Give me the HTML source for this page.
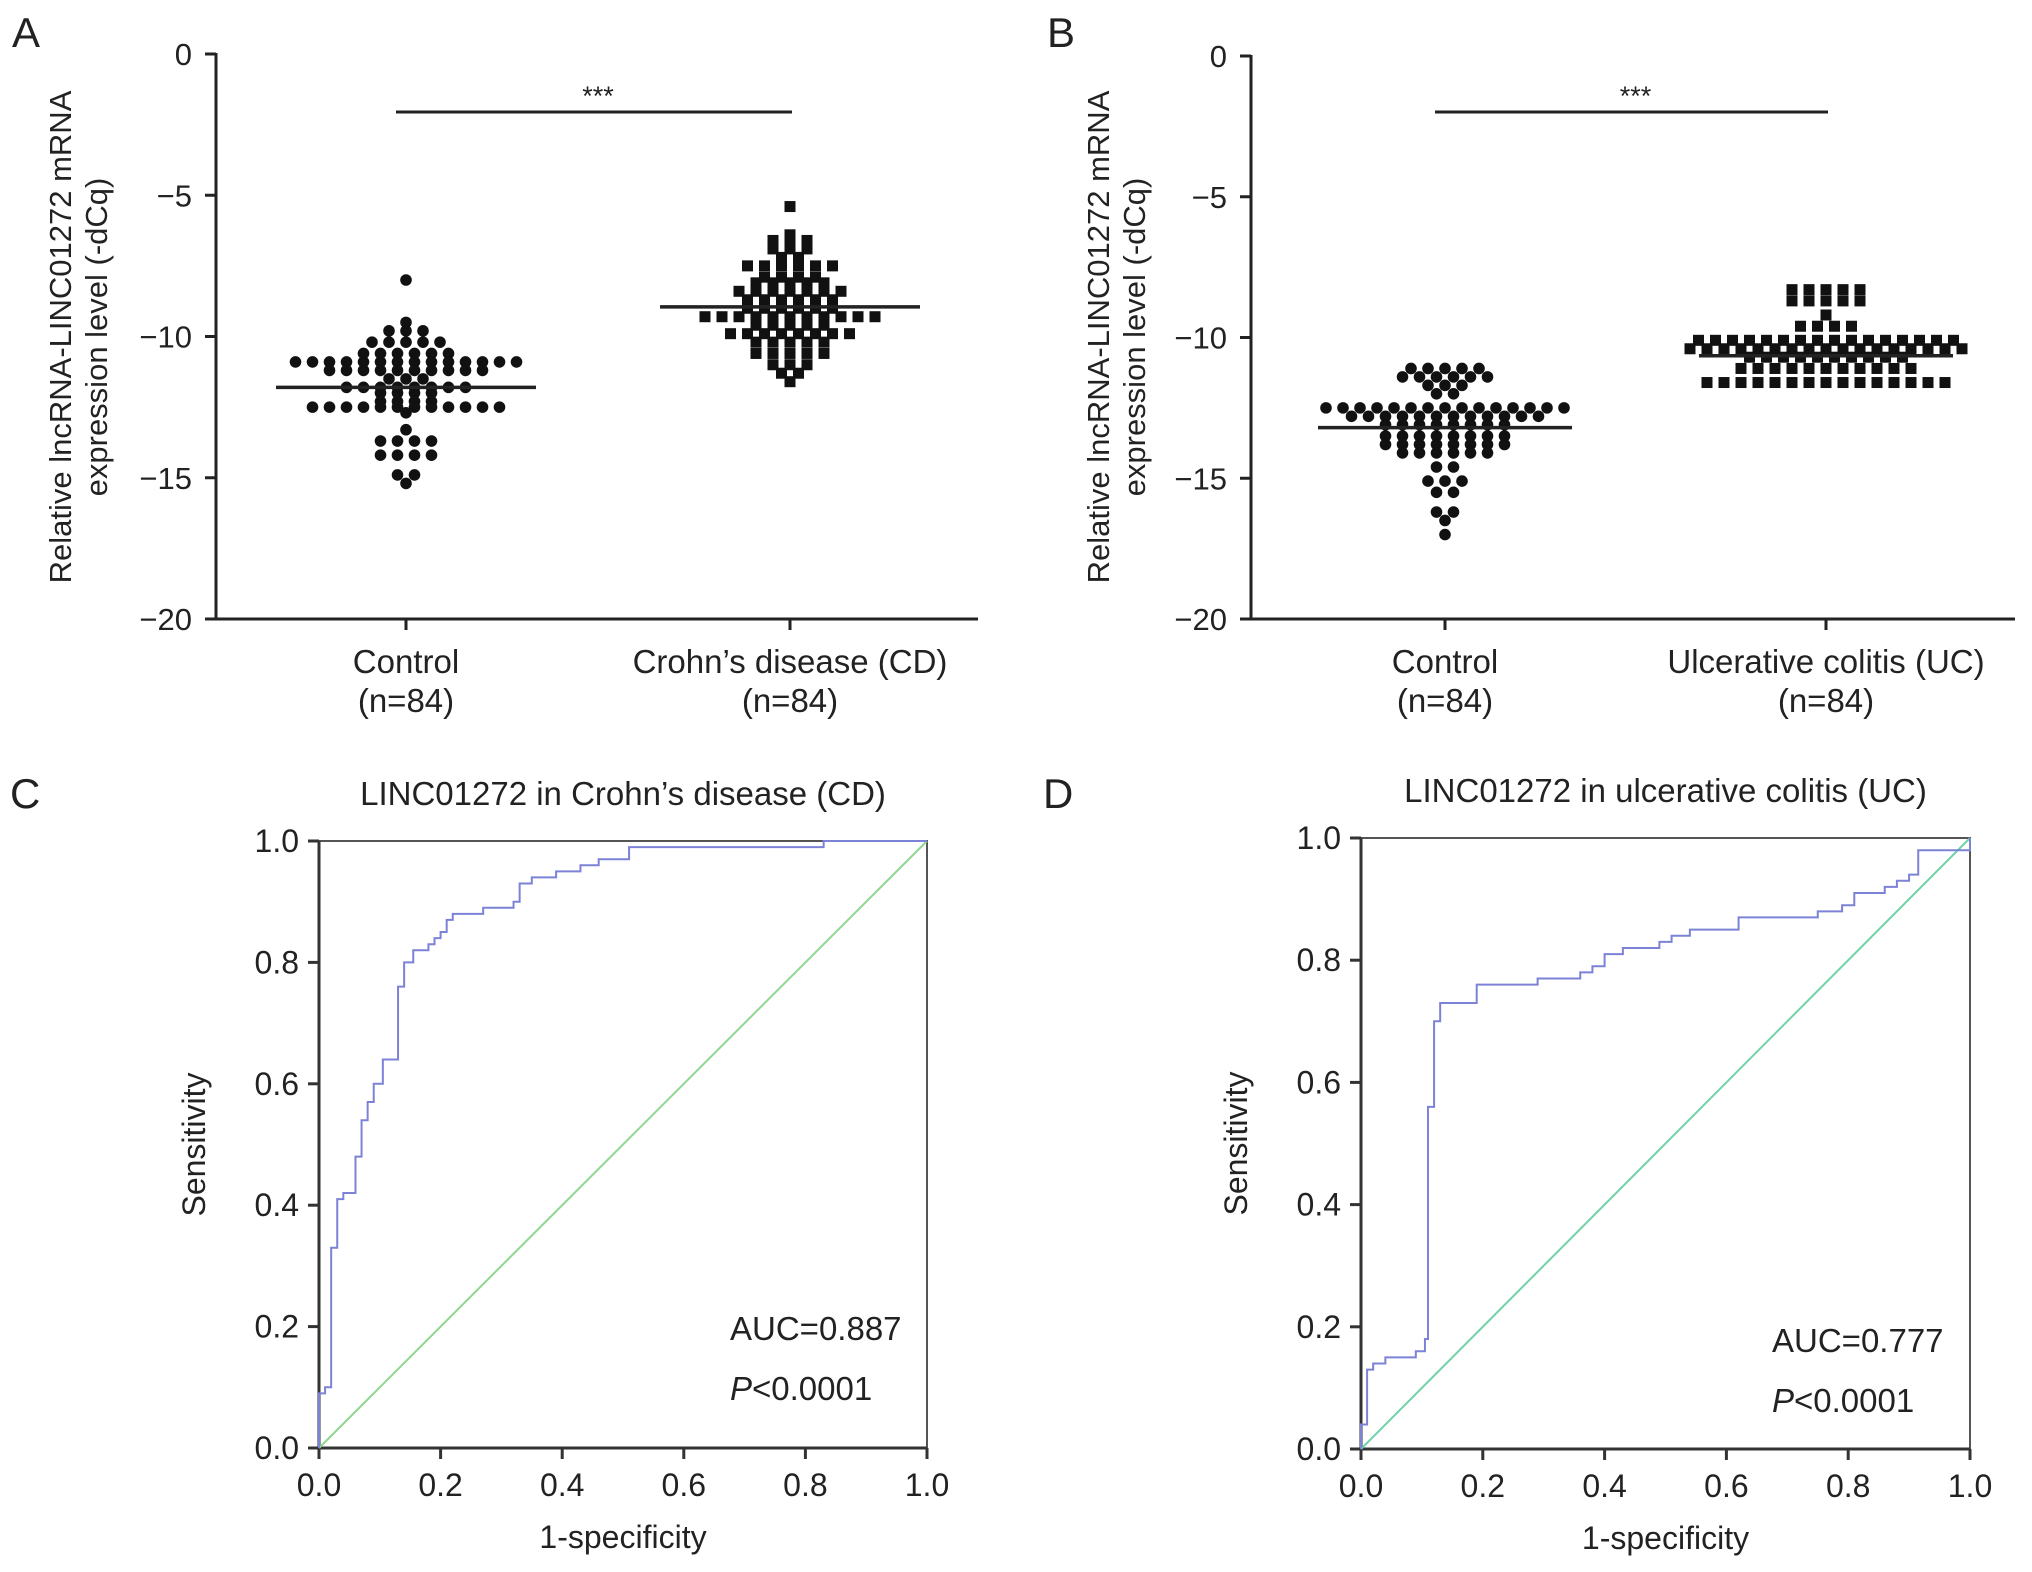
<!DOCTYPE html>
<html><head><meta charset="utf-8"><style>
html,body{margin:0;padding:0;background:#fff;}
svg{display:block;font-family:"Liberation Sans",Arial,sans-serif;}
</style></head><body>
<svg id="fig" width="2032" height="1572" viewBox="0 0 2032 1572" xmlns="http://www.w3.org/2000/svg">
<g fill="#222" font-size="42">
<text x="12" y="47">A</text>
<text x="1047" y="47">B</text>
<text x="10" y="808">C</text>
<text x="1043" y="808">D</text>
</g>
</svg>
<script>
// ---- Scatter data (value rows and counts of points per row) ----
const groupNames = ["Control","Crohn’s disease (CD)","Control","Ulcerative colitis (UC)"];
const aCtrlVals = [-8.0,-9.5,-9.8,-10.2,-10.6,-10.9,-11.2,-11.5,-11.8,-12.0,-12.3,-12.5,-12.7,-13.3,-13.7,-14.2,-14.9,-15.2];
const aCtrlCounts = [1,1,3,5,6,14,10,3,8,4,4,12,1,1,4,4,2,1];
const aCDVals = [-5.4,-6.4,-6.6,-6.9,-7.2,-7.5,-7.9,-8.1,-8.4,-8.7,-9.0,-9.3,-9.6,-9.9,-10.2,-10.6,-11.0,-11.3,-11.6];
const aCDCounts = [1,1,3,3,2,6,4,5,7,6,6,11,5,8,5,5,3,2,1];
const bCtrlVals = [-11.1,-11.4,-11.7,-12.0,-12.5,-12.8,-13.1,-13.5,-13.8,-14.1,-14.6,-15.1,-15.5,-16.2,-16.5,-17.0];
const bCtrlCounts = [5,6,3,2,15,12,8,8,8,6,2,3,2,2,1,1];
const bUCVals = [-8.3,-8.7,-9.2,-9.6,-10.1,-10.4,-10.7,-11.1,-11.6];
const bUCCounts = [5,5,1,4,16,17,10,11,15];
const meansA = [-11.8,-8.95];
const meansB = [-13.2,-10.65];
const yTicksScatter = [0,-5,-10,-15,-20];

// ---- ROC data ----
const fprC = [0,0.01,0.02,0.03,0.04,0.06,0.07,0.08,0.09,0.105,0.13,0.14,0.155,0.18,0.19,0.20,0.21,0.22,0.27,0.32,0.33,0.35,0.39,0.43,0.46,0.51,0.83,1.0];
const tprC = [0.09,0.10,0.33,0.41,0.42,0.48,0.54,0.57,0.60,0.64,0.76,0.80,0.82,0.83,0.84,0.85,0.87,0.88,0.89,0.90,0.93,0.94,0.95,0.96,0.97,0.99,1.0,1.0];
const fprD = [0,0.01,0.02,0.04,0.09,0.105,0.11,0.12,0.13,0.19,0.29,0.36,0.38,0.40,0.43,0.49,0.51,0.54,0.62,0.75,0.79,0.81,0.86,0.88,0.90,0.915,0.97,1.0];
const tprD = [0.04,0.13,0.14,0.15,0.16,0.18,0.56,0.70,0.73,0.76,0.77,0.78,0.79,0.81,0.82,0.83,0.84,0.85,0.87,0.88,0.89,0.91,0.92,0.93,0.94,0.98,0.98,1.0];
const rocTicks = [0,0.2,0.4,0.6,0.8,1.0];
const aucC = "AUC=0.887", aucD = "AUC=0.777";

const NS = "http://www.w3.org/2000/svg";
const svg = document.getElementById("fig");
function mk(tag, attrs, parent, text){
  const e = document.createElementNS(NS, tag);
  for (const k in attrs) e.setAttribute(k, attrs[k]);
  if (text !== undefined) e.textContent = text;
  (parent || svg).appendChild(e);
  return e;
}

function scatterPanel(p){
  const g = mk("g", {});
  
  
  const yS = v => p.y0 + (0 - v) / 20 * (p.y20 - p.y0);
  const ax = mk("line", {x1:p.ax, y1:p.y0-1, x2:p.ax, y2:p.y20+1.5, stroke:"#222","stroke-width":3}, g);
  
  
  const xa = mk("line", {x1:p.ax-11, y1:p.y20, x2:p.xend, y2:p.y20, stroke:"#222","stroke-width":3}, g);
  
  
  yTicksScatter.forEach(t => {
    const y = yS(t);
    const tk = mk("line", {x1:p.ax-11, y1:y, x2:p.ax, y2:y, stroke:"#222","stroke-width":3}, g);
    
    
    const lb = mk("text", {x:p.ax-24, y:y+11, "text-anchor":"end","font-size":31, fill:"#222"}, g, t === 0 ? "0" : "\u2212" + Math.abs(t));
    
    
  });
  const tt = mk("text", {transform:`translate(${p.titleX},337) rotate(-90)`, "text-anchor":"middle","font-size":31, fill:"#222"}, g);
  
  
  mk("tspan", {x:0, y:0}, tt, "Relative lncRNA-LINC01272 mRNA");
  mk("tspan", {x:0, y:36}, tt, "expression level (-dCq)");
  p.groups.forEach((gr, gi) => {
    const cx = p.cats[gi];
    const tk = mk("line", {x1:cx, y1:p.y20, x2:cx, y2:p.y20+11, stroke:"#222","stroke-width":3}, g);
    
    
    const l1 = mk("text", {x:cx, y:673, "text-anchor":"middle","font-size":33, fill:"#222"}, g, gr.label);
    
    
    const l2 = mk("text", {x:cx, y:712, "text-anchor":"middle","font-size":33, fill:"#222"}, g, "(n=84)");
    
    
    gr.vals.forEach((v, ri) => {
      const n = gr.counts[ri];
      const sp = 17;
      for (let k = 0; k < n; k++){
        const x = cx + (k - (n-1)/2) * sp;
        const y = yS(v);
        let m;
        if (gr.square) m = mk("rect", {x:x-5.5, y:y-5.5, width:11, height:11, fill:"#111"}, g);
        else m = mk("circle", {cx:x, cy:y, r:5.8, fill:"#111"}, g);
        
        
      }
    });
    const ml = mk("line", {x1:cx-p.meanHalf, y1:yS(p.means[gi]), x2:cx+p.meanHalf, y2:yS(p.means[gi]), stroke:"#222","stroke-width":3.5}, g);
    
    
  });
  const sl = mk("line", {x1:p.cats[0]-10, y1:112, x2:p.cats[1]+2, y2:112, stroke:"#222","stroke-width":3}, g);
  
  
  const st = mk("text", {x:(p.cats[0]+p.cats[1])/2, y:105, "text-anchor":"middle","font-size":27, fill:"#222"}, g, "***");
  
  
}

scatterPanel({name:"panel-a-scatter", ax:216, y0:54, y20:619, xend:978, titleX:71, cats:[406,790], meanHalf:130, means:meansA,
  groups:[{label:groupNames[0], vals:aCtrlVals, counts:aCtrlCounts, square:false},{label:groupNames[1], vals:aCDVals, counts:aCDCounts, square:true}]});
scatterPanel({name:"panel-b-scatter", ax:1251, y0:56, y20:619, xend:2015, titleX:1109, cats:[1445,1826], meanHalf:127, means:meansB,
  groups:[{label:groupNames[2], vals:bCtrlVals, counts:bCtrlCounts, square:false},{label:groupNames[3], vals:bUCVals, counts:bUCCounts, square:true}]});

function rocPanel(p){
  const g = mk("g", {});
  
  
  const W = p.x1 - p.x0, H = p.yb - p.yt;
  const xS = v => p.x0 + v * W, yS = v => p.yb - v * H;
  const t = mk("text", {x:(p.x0+p.x1)/2, y:p.yt-36, "text-anchor":"middle","font-size":33, fill:"#222"}, g, p.title);
  
  
  const fr = mk("rect", {x:p.x0, y:p.yt, width:W, height:H, fill:"none", stroke:"#555","stroke-width":2}, g);
  
  
  const xa = mk("line", {x1:p.x0-11, y1:p.yb, x2:p.x1, y2:p.yb, stroke:"#333","stroke-width":3}, g);
  
  
  const ya = mk("line", {x1:p.x0, y1:p.yt, x2:p.x0, y2:p.yb+11, stroke:"#333","stroke-width":3}, g);
  
  
  rocTicks.forEach(v => {
    const a = mk("line", {x1:xS(v), y1:p.yb, x2:xS(v), y2:p.yb+11, stroke:"#333","stroke-width":3}, g);
    
    
    const b = mk("line", {x1:p.x0-11, y1:yS(v), x2:p.x0, y2:yS(v), stroke:"#333","stroke-width":3}, g);
    
    
    const lx = mk("text", {x:xS(v), y:p.yb+48, "text-anchor":"middle","font-size":32, fill:"#222"}, g, v.toFixed(1));
    
    
    const ly = mk("text", {x:p.x0-20, y:yS(v)+11, "text-anchor":"end","font-size":32, fill:"#222"}, g, v.toFixed(1));
    
    
  });
  const xt = mk("text", {x:(p.x0+p.x1)/2, y:p.yb+100, "text-anchor":"middle","font-size":32, fill:"#222"}, g, "1-specificity");
  
  
  const yt = mk("text", {transform:`translate(${p.x0-114},${(p.yt+p.yb)/2}) rotate(-90)`, "text-anchor":"middle","font-size":32, fill:"#222"}, g, "Sensitivity");
  
  
  const dg = mk("line", {x1:xS(0), y1:yS(0), x2:xS(1), y2:yS(1), stroke:p.diag,"stroke-width":2}, g);
  
  
  let d = `M${xS(p.fpr[0])},${yS(0)} V${yS(p.tpr[0])}`;
  for (let i = 1; i < p.fpr.length; i++) d += ` H${xS(p.fpr[i])} V${yS(p.tpr[i])}`;
  const c = mk("path", {d:d, fill:"none", stroke:"#7c82d6","stroke-width":2}, g);
  
  
  const a1 = mk("text", {x:p.x0+411, y:p.yb-p.aucDy, "font-size":33, fill:"#222"}, g, p.auc);
  
  
  const a2 = mk("text", {x:p.x0+411, y:p.yb-p.aucDy+60, "font-size":33, fill:"#222"}, g);
  
  
  mk("tspan", {"font-style":"italic"}, a2, "P");
  mk("tspan", {}, a2, "<0.0001");
}
rocPanel({name:"panel-c-roc", x0:319, x1:927, yt:841, yb:1448, title:"LINC01272 in Crohn’s disease (CD)", fpr:fprC, tpr:tprC, diag:"#8fd68f", auc:aucC, aucDy:108});
rocPanel({name:"panel-d-roc", x0:1361, x1:1970, yt:838, yb:1449, title:"LINC01272 in ulcerative colitis (UC)", fpr:fprD, tpr:tprD, diag:"#6fd2a8", auc:aucD, aucDy:97});
</script>
</body></html>
